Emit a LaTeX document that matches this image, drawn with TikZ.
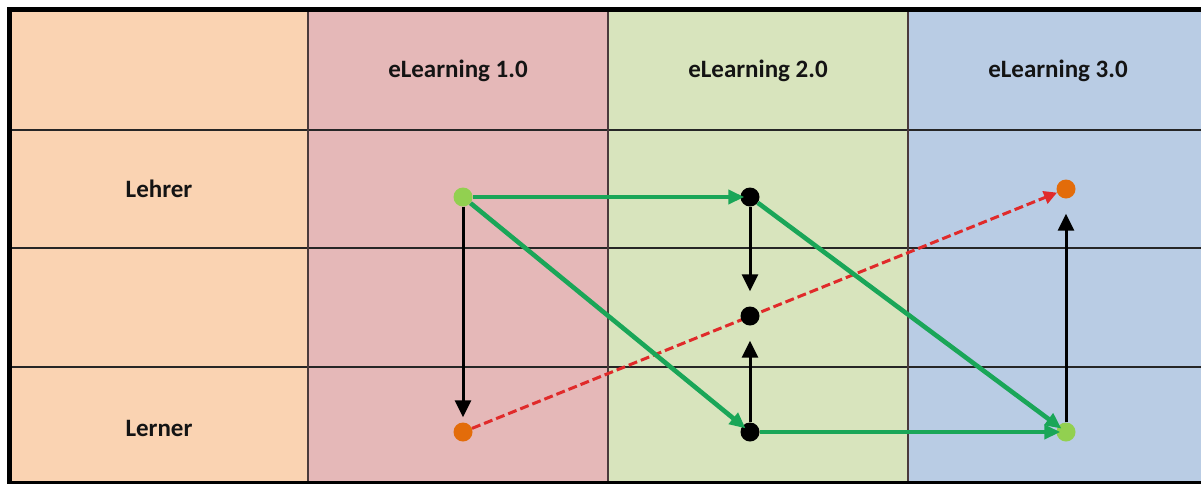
\documentclass[tikz,border=0pt]{standalone}
\usepackage{fontspec}
\setmainfont{Carlito}
\usepackage{tikz}
\usetikzlibrary{
  arrows.meta,
  backgrounds
}
\definecolor{peachcol}{HTML}{FAD3B2}
\definecolor{redcol}{HTML}{E5B8B8}
\definecolor{greencol}{HTML}{D8E4BD}
\definecolor{bluecol}{HTML}{B9CCE4}
\definecolor{arrowgreen}{HTML}{1AA658}
\definecolor{dotgreen}{HTML}{92D050}
\definecolor{dotorange}{HTML}{E36C0A}
\definecolor{dashred}{HTML}{E02A2A}
\definecolor{gridline}{HTML}{4A3A3C}
\pgfdeclarelayer{table}
\pgfdeclarelayer{under}
\pgfsetlayers{table,under,main}
\tikzset{
  head/.style={font=\fontsize{25}{28}\selectfont\bfseries,text=black!92,inner sep=0pt},
  dot/.style={circle,minimum size=19pt,inner sep=0pt},
  flow/.style={-{Triangle[length=16pt,width=14pt]},line width=4.6pt,draw=arrowgreen},
  move/.style={-{Triangle[length=17pt,width=16pt]},line width=3pt,draw=black},
  future/.style={-{Triangle[length=13pt,width=13pt]},line width=3pt,
    draw=dashred,dash pattern=on 9pt off 4pt}
}

\begin{document}
\begin{tikzpicture}[x=1pt,y=-1pt]
  \useasboundingbox (0,0) rectangle (1201,483);
  \begin{pgfonlayer}{table}
    \fill[white] (0,0) rectangle (1201,483);
    \fill[peachcol] (10,10) rectangle (308,483);
    \fill[redcol] (308,10) rectangle (608,483);
    \fill[greencol] (608,10) rectangle (908,483);
    \fill[bluecol] (908,10) rectangle (1201,483);
    \foreach \y in {130,248,367}
      \draw[line width=1.5pt,black!85] (10,\y) -- (1201,\y);
    \foreach \x in {308,608,908}
      \draw[line width=1.5pt,gridline] (\x,10) -- (\x,483);
    \draw[line width=5pt] (1201,9.5) -- (9.5,9.5) -- (9.5,483.5) -- (1201,483.5);
  \end{pgfonlayer}

  % column and row heads
  \node[head] (v1) at (458,71) {eLearning 1.0};
  \node[head] (v2) at (758,71) {eLearning 2.0};
  \node[head] (v3) at (1058,71) {eLearning 3.0};
  \node[head] (lehrer) at (159,189) {Lehrer};
  \node[head] (lerner) at (159,428) {Lerner};

  % points
  \node[dot,fill=dotgreen] (a) at (463,197) {};
  \node[dot,fill=dotorange] (b) at (463,432) {};
  \node[dot,fill=black] (c) at (750,197) {};
  \node[dot,fill=black] (d) at (750,316) {};
  \node[dot,fill=black] (e) at (750,432) {};
  \node[dot,fill=dotorange] (f) at (1066,189) {};
  \node[dot,fill=dotgreen] (g) at (1066,432) {};

  \begin{pgfonlayer}{under}
    \draw[future] (b) -- (f);
  \end{pgfonlayer}

  \draw[move,shorten >=5pt] (a) -- (b);
  \draw[move,shorten >=15pt] (c) -- (d);
  \draw[move,shorten >=15pt] (e) -- (d);
  \draw[move,shorten >=15pt] (g) -- (f);

  \draw[flow,shorten >=-4pt] (a) -- (c);
  \draw[flow,shorten >=-4pt] (a) -- (e);
  \draw[flow,shorten >=-4pt] (c) -- (g);
  \draw[flow,shorten >=-4pt] (e) -- (g);
\end{tikzpicture}
\end{document}
